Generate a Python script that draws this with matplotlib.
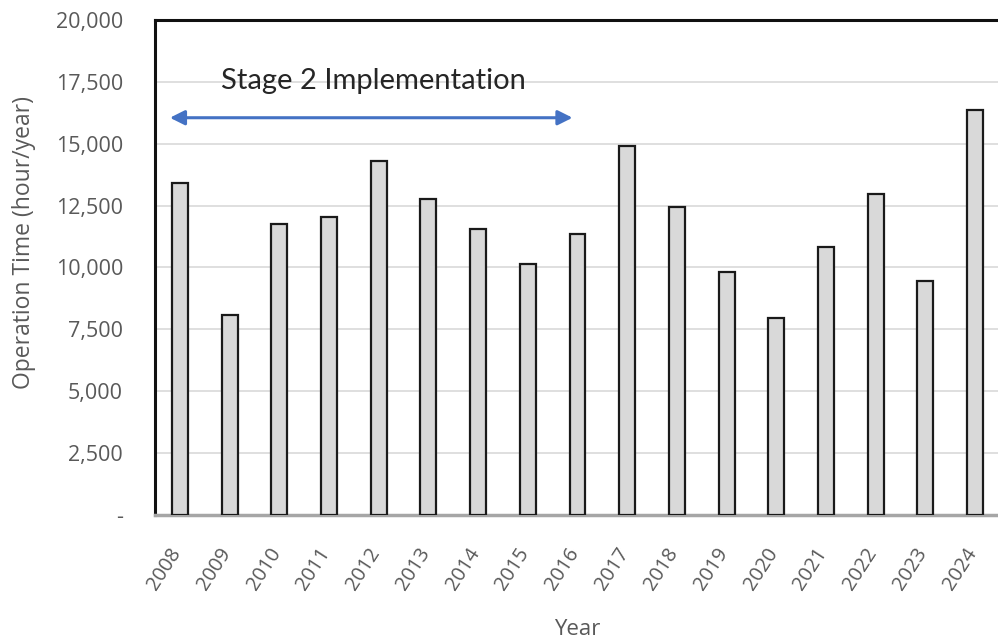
import matplotlib
matplotlib.use("Agg")
import matplotlib.pyplot as plt
from matplotlib.ticker import FixedLocator, FuncFormatter
from matplotlib.transforms import ScaledTranslation

years = ["2008", "2009", "2010", "2011", "2012", "2013", "2014", "2015", "2016",
         "2017", "2018", "2019", "2020", "2021", "2022", "2023", "2024"]
hours = [13400, 8100, 11750, 12050, 14300, 12750, 11575, 10150, 11350,
         14925, 12425, 9825, 7950, 10825, 12950, 9450, 16350]
y_ticks = [0, 2500, 5000, 7500, 10000, 12500, 15000, 17500, 20000]

stage_label = "Stage 2 Implementation"
stage_start, stage_end, stage_level = -0.2, 7.9, 16050

plt.rcParams["font.family"] = ["Open Sans", "DejaVu Sans"]

fig = plt.figure(figsize=(9.98, 6.44), dpi=100)
ax = fig.add_axes([0.1553, 0.2003, 0.8467, 0.7687])

x = list(range(len(years)))
ax.bar(x, hours, width=0.32, color="#d9d9d9", edgecolor="#1a1a1a",
       linewidth=1.6, zorder=3)

ax.set_xlim(-0.5, len(years) - 0.5)
ax.set_ylim(0, 20000)
ax.yaxis.set_major_locator(FixedLocator(y_ticks))
ax.yaxis.set_major_formatter(
    FuncFormatter(lambda v, p: "-" if v == 0 else f"{int(v):,}"))
ax.grid(axis="y", color="#d9d9d9", linewidth=1.2, zorder=0)
ax.set_axisbelow(True)

ax.set_xticks(x)
ax.set_xticklabels(years, rotation=57, ha="right", va="top",
                   rotation_mode="anchor")
ax.tick_params(axis="x", length=0, pad=21, labelsize=14.5, labelcolor="#595959")
ax.tick_params(axis="y", length=0, pad=23, labelsize=15.5, labelcolor="#595959")
shift = ScaledTranslation(-11 / 100, 0, fig.dpi_scale_trans)
for lbl in ax.get_xticklabels():
    lbl.set_transform(lbl.get_transform() + shift)

for side in ("left", "top"):
    ax.spines[side].set_color("#111111")
    ax.spines[side].set_linewidth(2.2)
ax.spines["bottom"].set_color("#a6a6a6")
ax.spines["bottom"].set_linewidth(2.5)
ax.spines["right"].set_visible(False)

ax.set_ylabel("Operation Time (hour/year)", fontsize=16.5, color="#595959",
              va="center")
ax.yaxis.set_label_coords(-0.155, 0.55)
ax.set_xlabel("Year", fontsize=16, color="#595959", va="center")
ax.xaxis.set_label_coords(0.5, -0.232)

ax.annotate("", xy=(stage_end, stage_level), xytext=(stage_start, stage_level),
            arrowprops=dict(arrowstyle="<|-|>", color="#4472c4", lw=2.2,
                            mutation_scale=22, shrinkA=0, shrinkB=0),
            zorder=4)
ax.text(0.83, 17220, stage_label, fontsize=21, color="#262626",
        family=["Lato", "DejaVu Sans"], va="baseline", ha="left", zorder=4)

fig.savefig("out.png", dpi=100)
